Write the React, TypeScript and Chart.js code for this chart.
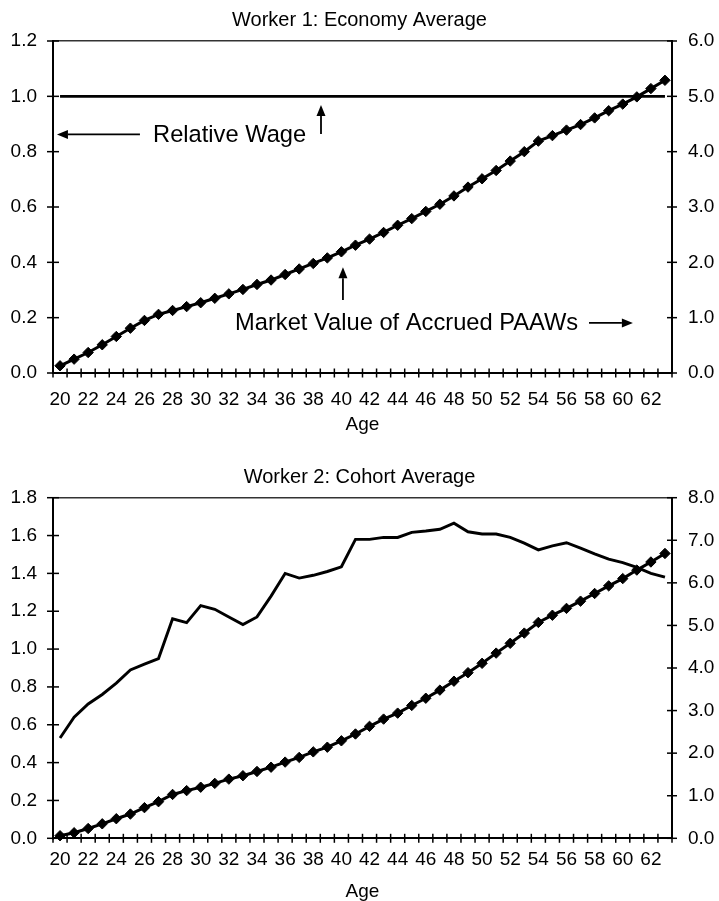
import React, { useEffect, useRef } from "react";
import { Chart, registerables } from "chart.js";

Chart.register(...registerables);

const FONT = '"Liberation Sans", Arial, Helvetica, sans-serif';

// ---------- data ----------
const ages = [
  20, 21, 22, 23, 24, 25, 26, 27, 28, 29, 30, 31, 32, 33, 34, 35, 36, 37, 38, 39, 40, 41,
  42, 43, 44, 45, 46, 47, 48, 49, 50, 51, 52, 53, 54, 55, 56, 57, 58, 59, 60, 61, 62, 63,
];

// Worker 1 – relative wage (left axis)
const w1RelativeWage = [
  1.0, 1.0, 1.0, 1.0, 1.0, 1.0, 1.0, 1.0, 1.0, 1.0, 1.0, 1.0, 1.0, 1.0, 1.0, 1.0, 1.0, 1.0,
  1.0, 1.0, 1.0, 1.0, 1.0, 1.0, 1.0, 1.0, 1.0, 1.0, 1.0, 1.0, 1.0, 1.0, 1.0, 1.0, 1.0, 1.0,
  1.0, 1.0, 1.0, 1.0, 1.0, 1.0, 1.0, 1.0,
];
// Worker 1 – market value of accrued PAAWs (right axis)
const w1MarketValue = [
  0.13, 0.25, 0.37, 0.51, 0.66, 0.81, 0.95, 1.06, 1.13, 1.2, 1.27, 1.35, 1.43, 1.51, 1.6,
  1.68, 1.78, 1.88, 1.98, 2.08, 2.19, 2.31, 2.42, 2.54, 2.67, 2.79, 2.92, 3.05, 3.2, 3.36,
  3.51, 3.66, 3.83, 4.0, 4.19, 4.29, 4.39, 4.49, 4.61, 4.74, 4.86, 4.99, 5.14, 5.29,
];

// Worker 2 – relative wage (left axis)
const w2RelativeWage = [
  0.53, 0.64, 0.71, 0.76, 0.82, 0.89, 0.92, 0.95, 1.16, 1.14, 1.23, 1.21, 1.17, 1.13, 1.17,
  1.28, 1.4, 1.375, 1.39, 1.41, 1.435, 1.58, 1.58, 1.59, 1.59, 1.617, 1.624, 1.633, 1.665,
  1.62, 1.608, 1.608, 1.59, 1.56, 1.524, 1.545, 1.562, 1.533, 1.503, 1.475, 1.457, 1.432,
  1.4, 1.38,
];
// Worker 2 – market value of accrued PAAWs (right axis)
const w2MarketValue = [
  0.06, 0.13, 0.23, 0.34, 0.46, 0.57, 0.72, 0.86, 1.03, 1.12, 1.2, 1.29, 1.39, 1.47, 1.57,
  1.67, 1.79, 1.9, 2.03, 2.14, 2.29, 2.45, 2.63, 2.8, 2.94, 3.12, 3.29, 3.48, 3.69, 3.89,
  4.11, 4.35, 4.58, 4.82, 5.07, 5.24, 5.4, 5.57, 5.75, 5.93, 6.1, 6.3, 6.49, 6.69,
];

// tick labels
const w1LeftTicks = [0, 0.2, 0.4, 0.6, 0.8, 1.0, 1.2];
const w1RightTicks = [0, 1, 2, 3, 4, 5, 6];
const w2LeftTicks = [0, 0.2, 0.4, 0.6, 0.8, 1.0, 1.2, 1.4, 1.6, 1.8];
const w2RightTicks = [0, 1, 2, 3, 4, 5, 6, 7, 8];

const title1 = "Worker 1: Economy Average";
const title2 = "Worker 2: Cohort Average";
const xTitle = "Age";

// annotations for chart 1, anchored in data units (x = category index, y = left axis)
const w1Texts = [
  { text: "Relative Wage", x: 6.61, y: 0.836 },
  { text: "Market Value of Accrued PAAWs", x: 12.44, y: 0.155 },
];
const w1Arrows = [
  { x1: 5.68, y1: 0.8625, x2: -0.22, y2: 0.8625 },
  { x1: 18.55, y1: 0.8638, x2: 18.55, y2: 0.9687 },
  { x1: 37.6, y1: 0.181, x2: 40.72, y2: 0.181 },
  { x1: 20.11, y1: 0.264, x2: 20.11, y2: 0.382 },
];

// ---------- helpers ----------
function drawArrow(ctx: CanvasRenderingContext2D, x1: number, y1: number, x2: number, y2: number) {
  const ang = Math.atan2(y2 - y1, x2 - x1);
  const headLen = 11;
  const headHalf = 4.5;
  const bx = x2 - Math.cos(ang) * headLen;
  const by = y2 - Math.sin(ang) * headLen;
  ctx.beginPath();
  ctx.moveTo(x1, y1);
  ctx.lineTo(bx, by);
  ctx.stroke();
  ctx.beginPath();
  ctx.moveTo(x2, y2);
  ctx.lineTo(bx + Math.sin(ang) * headHalf, by - Math.cos(ang) * headHalf);
  ctx.lineTo(bx - Math.sin(ang) * headHalf, by + Math.cos(ang) * headHalf);
  ctx.closePath();
  ctx.fill();
}

function makePlugin(texts: any[], arrows: any[]) {
  return {
    id: "crossTicksAndNotes",
    afterDraw(chart: any) {
      const { ctx, chartArea: ca, scales } = chart;
      const xs = scales.x;
      const ys = scales.y;
      const y1s = scales.y1;
      ctx.save();
      ctx.strokeStyle = "#000";
      ctx.fillStyle = "#000";
      ctx.lineWidth = 1.5;
      // x cross ticks at category boundaries
      const n = chart.data.labels.length;
      for (let i = 0; i <= n; i++) {
        const px = xs.getPixelForValue(i - 0.5);
        ctx.beginPath();
        ctx.moveTo(px, ca.bottom - 4.5);
        ctx.lineTo(px, ca.bottom + 4.5);
        ctx.stroke();
      }
      for (const t of ys.ticks) {
        const py = ys.getPixelForValue(t.value);
        ctx.beginPath();
        ctx.moveTo(ca.left - 6, py);
        ctx.lineTo(ca.left + 6, py);
        ctx.stroke();
      }
      for (const t of y1s.ticks) {
        const py = y1s.getPixelForValue(t.value);
        ctx.beginPath();
        ctx.moveTo(ca.right - 5, py);
        ctx.lineTo(ca.right + 5, py);
        ctx.stroke();
      }
      // annotations
      ctx.font = "23.7px " + FONT;
      ctx.textAlign = "left";
      ctx.textBaseline = "alphabetic";
      for (const t of texts) {
        ctx.fillText(t.text, xs.getPixelForValue(t.x), ys.getPixelForValue(t.y));
      }
      ctx.lineWidth = 1.8;
      for (const a of arrows) {
        drawArrow(
          ctx,
          xs.getPixelForValue(a.x1),
          ys.getPixelForValue(a.y1),
          xs.getPixelForValue(a.x2),
          ys.getPixelForValue(a.y2)
        );
      }
      ctx.restore();
    },
  };
}

function makeConfig(p: {
  title: string;
  wage: number[];
  market: number[];
  leftTicks: number[];
  rightTicks: number[];
  titlePad: { top: number; bottom: number };
  xHeight: number;
  xTickPad: number;
  xTitleLineHeight: number;
  xTitlePadBottom: number;
  texts: any[];
  arrows: any[];
}) {
  const lMax = p.leftTicks[p.leftTicks.length - 1];
  const rMax = p.rightTicks[p.rightTicks.length - 1];
  return {
    type: "line" as const,
    data: {
      labels: ages.map(String),
      datasets: [
        {
          label: "Relative Wage",
          data: p.wage,
          yAxisID: "y",
          borderColor: "#000",
          backgroundColor: "#000",
          borderWidth: 2.9,
          pointRadius: 0,
          tension: 0,
          fill: false,
          clip: false as any,
        },
        {
          label: "Market Value of Accrued PAAWs",
          data: p.market,
          yAxisID: "y1",
          borderColor: "#000",
          backgroundColor: "#000",
          borderWidth: 3,
          pointStyle: "rectRot",
          pointRadius: 5.2,
          pointBorderWidth: 1,
          pointBackgroundColor: "#000",
          pointBorderColor: "#000",
          tension: 0,
          fill: false,
          clip: false as any,
        },
      ],
    },
    options: {
      animation: false as const,
      responsive: false,
      devicePixelRatio: 1,
      events: [],
      layout: { padding: 0 },
      plugins: {
        legend: { display: false },
        tooltip: { enabled: false },
        title: {
          display: true,
          text: p.title,
          color: "#000",
          font: { family: FONT, size: 20, weight: "normal" as const, lineHeight: 1.2 },
          padding: p.titlePad,
        },
      },
      scales: {
        x: {
          type: "category" as const,
          offset: true,
          grid: { display: false, drawTicks: false },
          border: { display: true, color: "#000", width: 2 },
          ticks: {
            autoSkip: false,
            maxRotation: 0,
            minRotation: 0,
            padding: p.xTickPad,
            color: "#000",
            font: { family: FONT, size: 19, lineHeight: 1.2 },
            callback: (_v: any, i: number) => (i % 2 === 0 ? String(ages[i]) : ""),
          },
          title: {
            display: true,
            text: xTitle,
            color: "#000",
            font: { family: FONT, size: 19, lineHeight: p.xTitleLineHeight },
            padding: { top: 0, bottom: p.xTitlePadBottom },
          },
          afterFit: (s: any) => {
            s.height = p.xHeight;
          },
        },
        y: {
          type: "linear" as const,
          position: "left" as const,
          min: p.leftTicks[0],
          max: lMax,
          afterBuildTicks: (s: any) => {
            s.ticks = p.leftTicks.map((v) => ({ value: v }));
          },
          grid: {
            display: true,
            drawOnChartArea: true,
            drawTicks: false,
            lineWidth: 1.4,
            color: (c: any) =>
              c.tick && Math.abs(c.tick.value - lMax) < 1e-9 ? "#333" : "rgba(0,0,0,0)",
          },
          border: { display: true, color: "#000", width: 2 },
          ticks: {
            padding: 16,
            color: "#000",
            font: { family: FONT, size: 19 },
            callback: (v: any) => Number(v).toFixed(1),
          },
          afterFit: (s: any) => {
            s.width = 53;
          },
        },
        y1: {
          type: "linear" as const,
          position: "right" as const,
          min: p.rightTicks[0],
          max: rMax,
          afterBuildTicks: (s: any) => {
            s.ticks = p.rightTicks.map((v) => ({ value: v }));
          },
          grid: { display: false, drawTicks: false },
          border: { display: true, color: "#000", width: 2 },
          ticks: {
            padding: 16,
            color: "#000",
            font: { family: FONT, size: 19 },
            callback: (v: any) => Number(v).toFixed(1),
          },
          afterFit: (s: any) => {
            s.width = 47;
          },
        },
      },
    },
    plugins: [makePlugin(p.texts, p.arrows)],
  };
}

export default function App() {
  const ref1 = useRef<HTMLCanvasElement>(null);
  const ref2 = useRef<HTMLCanvasElement>(null);

  useEffect(() => {
    Chart.defaults.font.family = FONT;
    Chart.defaults.color = "#000";
    const c1 = new Chart(
      ref1.current as HTMLCanvasElement,
      makeConfig({
        title: title1,
        wage: w1RelativeWage,
        market: w1MarketValue,
        leftTicks: w1LeftTicks,
        rightTicks: w1RightTicks,
        titlePad: { top: 8, bottom: 9 },
        xHeight: 77,
        xTickPad: 15.6,
        xTitleLineHeight: 1.2,
        xTitlePadBottom: 13.6,
        texts: w1Texts,
        arrows: w1Arrows,
      }) as any
    );
    const c2 = new Chart(
      ref2.current as HTMLCanvasElement,
      makeConfig({
        title: title2,
        wage: w2RelativeWage,
        market: w2MarketValue,
        leftTicks: w2LeftTicks,
        rightTicks: w2RightTicks,
        titlePad: { top: 15, bottom: 8.7 },
        xHeight: 62.7,
        xTickPad: 10.3,
        xTitleLineHeight: 1,
        xTitlePadBottom: 0,
        texts: [],
        arrows: [],
      }) as any
    );
    return () => {
      c1.destroy();
      c2.destroy();
    };
  }, []);

  return (
    <div
      style={{
        position: "fixed",
        left: 0,
        top: 0,
        width: 719,
        height: 901,
        background: "#fff",
        overflow: "hidden",
      }}
    >
      <canvas
        ref={ref1}
        width={719}
        height={450}
        style={{ position: "absolute", left: 0, top: 0, width: 719, height: 450, display: "block" }}
      />
      <canvas
        ref={ref2}
        width={719}
        height={451}
        style={{ position: "absolute", left: 0, top: 450, width: 719, height: 451, display: "block" }}
      />
    </div>
  );
}
